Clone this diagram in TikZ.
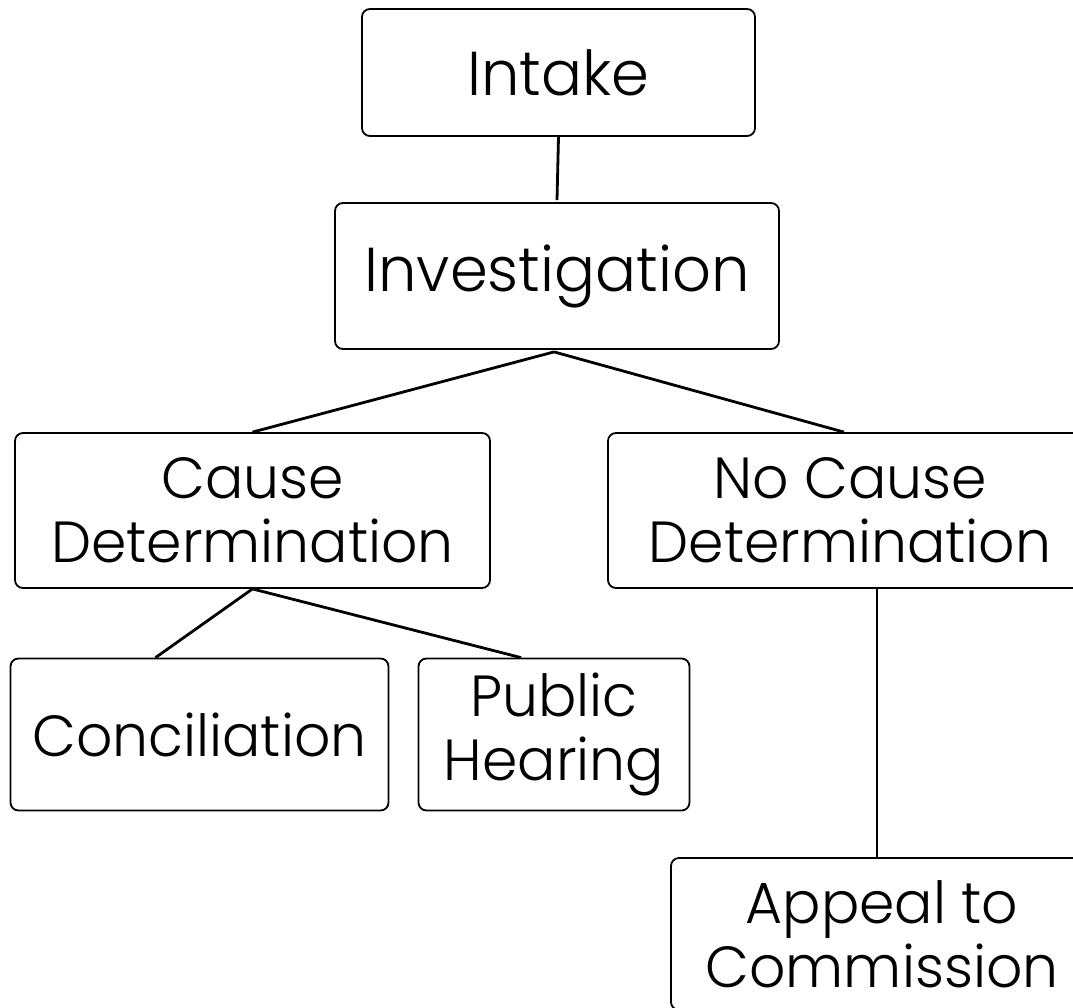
\documentclass[tikz,border=0pt]{standalone}
\usepackage{fontspec}
\setmainfont{Poppins}[UprightFont={* Light}, FakeStretch=0.98]
\usetikzlibrary{calc}
\tikzset{
  box/.style={draw=black, line width=1.8pt, rounded corners=8pt, inner sep=0pt, align=center, fill=white},
  big/.style={font=\fontsize{62}{68}\selectfont},
  mid/.style={font=\fontsize{58}{64}\selectfont},
  link/.style={draw=black, line width=2.8pt}
}
\begin{document}
\begin{tikzpicture}[x=1pt,y=-1pt]
\clip (0,0) rectangle (1073,1007);
\fill[white] (0,0) rectangle (1073,1007);
\node[box,big,minimum width=393pt,minimum height=127pt] (intake) at (558.5,72.5) {Intake};
\node[box,big,minimum width=444pt,minimum height=146pt] (inv) at (557,276) {Investigation};
\node[box,mid,minimum width=475pt,minimum height=155pt] (cause) at (252.5,510.5) {Cause\\Determination};
\node[box,mid,minimum width=484pt,minimum height=155pt] (nocause) at (850,510.5) {No Cause\\Determination};
\node[box,mid,minimum width=378pt,minimum height=152pt] (conc) at (199.5,734.5) {Conciliation};
\node[box,mid,minimum width=271pt,minimum height=152pt] (ph) at (554,734.5) {Public\\Hearing};
\node[box,mid,minimum width=422pt,minimum height=152pt] (appeal) at (882,934) {Appeal to\\Commission};
\coordinate (invb) at ([xshift=-3pt,yshift=-2pt]inv.south);
\draw[link] (intake.south) -- ([yshift=2pt]inv.north);
\draw[link] (invb) -- (cause.north);
\draw[link] (invb) -- ([xshift=-6pt]nocause.north);
\draw[link] (cause.south) -- ([xshift=-44pt]conc.north);
\draw[link] (cause.south) -- ([xshift=-33pt]ph.north);
\draw[link] ([xshift=27pt]nocause.south) -- ([xshift=-5pt]appeal.north);
\end{tikzpicture}
\end{document}
